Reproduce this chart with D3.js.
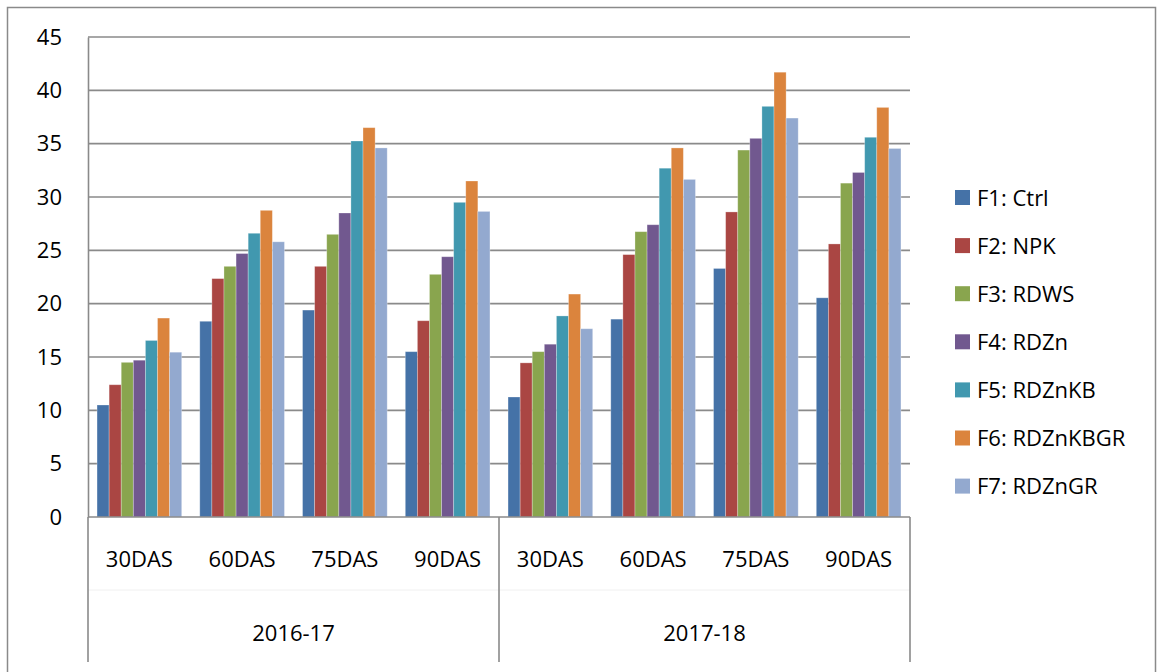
<!DOCTYPE html>
<html>
<head>
<meta charset="utf-8">
<script src="https://cdn.jsdelivr.net/npm/d3@7"></script>
<style>
  body { margin: 0; background: #fff; }
  text { font-family: "Open Sans", "Liberation Sans", sans-serif; fill: #000; }
</style>
</head>
<body>
<svg width="1158" height="672"></svg>
<script>
var years   = ['2016-17', '2017-18'],
    stages  = ['30DAS', '60DAS', '75DAS', '90DAS'],
    names   = ['F1: Ctrl', 'F2: NPK', 'F3: RDWS', 'F4: RDZn', 'F5: RDZnKB', 'F6: RDZnKBGR', 'F7: RDZnGR'],
    colors  = ['#4572A7', '#AA4643', '#89A54E', '#71588F', '#4198AF', '#DB843D', '#93A9CF'],
    yTicks  = [0, 5, 10, 15, 20, 25, 30, 35, 40, 45];

// one array per series, 8 values: 2016-17 (30,60,75,90 DAS) then 2017-18
var f1 = [10.5, 18.35, 19.4, 15.5, 11.25, 18.55, 23.3, 20.55],
    f2 = [12.4, 22.35, 23.5, 18.4, 14.45, 24.6, 28.6, 25.6],
    f3 = [14.5, 23.5, 26.5, 22.75, 15.5, 26.75, 34.4, 31.3],
    f4 = [14.7, 24.7, 28.5, 24.4, 16.2, 27.4, 35.5, 32.3],
    f5 = [16.55, 26.6, 35.25, 29.5, 18.85, 32.7, 38.5, 35.6],
    f6 = [18.65, 28.75, 36.5, 31.5, 20.9, 34.6, 41.7, 38.4],
    f7 = [15.45, 25.8, 34.6, 28.65, 17.65, 31.65, 37.4, 34.55];

var series = [f1, f2, f3, f4, f5, f6, f7];

var plotL = 88, plotR = 910, plotT = 37, plotB = 517,
    grey  = '#8a8a8a',
    svg   = d3.select('svg');

var cats = [];
years.forEach(function(yr) { stages.forEach(function(s) { cats.push(yr + '|' + s); }); });

var x0 = d3.scaleBand().domain(cats).range([plotL, plotR]).paddingInner(0.176).paddingOuter(0.088),
    x1 = d3.scaleBand().domain(d3.range(names.length)).range([0, x0.bandwidth()]),
    xYear = d3.scaleBand().domain(years).range([plotL, plotR]),
    y  = d3.scaleLinear().domain([0, 45]).range([plotB, plotT]);

// outer chart frame
svg.append('rect')
  .attr('x', 7.5).attr('y', 7.5).attr('width', 1148).attr('height', 680)
  .attr('fill', 'none').attr('stroke', grey).attr('stroke-width', 1.5);

// gridlines
svg.append('g').selectAll('line').data(yTicks.slice(1)).enter().append('line')
  .attr('x1', plotL).attr('x2', plotR)
  .attr('y1', function(d) { return y(d); }).attr('y2', function(d) { return y(d); })
  .attr('stroke', grey).attr('stroke-width', 1.6);

// y axis
var yAxis = svg.append('g').attr('transform', 'translate(' + plotL + ',0)')
  .call(d3.axisLeft(y).tickValues(yTicks).tickSize(0).tickPadding(26));
yAxis.select('.domain').attr('stroke', grey).attr('stroke-width', 1.6);
yAxis.selectAll('text').attr('font-size', 22).style('font-family', '"Open Sans", sans-serif');

// bars
svg.append('g').selectAll('g').data(series).enter().append('g')
  .attr('fill', function(d, i) { return colors[i]; })
  .each(function(vals, si) {
    d3.select(this).selectAll('rect').data(vals).enter().append('rect')
      .attr('x', function(d, ci) { return x0(cats[ci]) + x1(si); })
      .attr('width', x1.bandwidth())
      .attr('y', function(d) { return y(d); })
      .attr('height', function(d) { return y(0) - y(d); })
      .attr('stroke', '#fff').attr('stroke-opacity', 0.35).attr('stroke-width', 0.8);
  });

// x axis line
svg.append('line')
  .attr('x1', plotL).attr('x2', plotR).attr('y1', plotB).attr('y2', plotB)
  .attr('stroke', grey).attr('stroke-width', 1.6);

// faint divider between label rows
svg.append('line')
  .attr('x1', plotL).attr('x2', plotR).attr('y1', 590).attr('y2', 590)
  .attr('stroke', '#f0f0f0').attr('stroke-width', 1);

// year separators
svg.append('g').selectAll('line').data([plotL, xYear(years[1]), plotR]).enter().append('line')
  .attr('x1', function(d) { return d; }).attr('x2', function(d) { return d; })
  .attr('y1', plotB).attr('y2', 662)
  .attr('stroke', grey).attr('stroke-width', 1.6);

// stage labels
svg.append('g').selectAll('text').data(cats).enter().append('text')
  .attr('x', function(d) { return x0(d) + x0.bandwidth() / 2; })
  .attr('y', 567)
  .attr('text-anchor', 'middle').attr('font-size', 22)
  .text(function(d) { return d.split('|')[1]; });

// year labels
svg.append('g').selectAll('text').data(years).enter().append('text')
  .attr('x', function(d) { return xYear(d) + xYear.bandwidth() / 2; })
  .attr('y', 641)
  .attr('text-anchor', 'middle').attr('font-size', 22)
  .text(function(d) { return d; });

// legend
var legend = svg.append('g').selectAll('g').data(names).enter().append('g')
  .attr('transform', function(d, i) { return 'translate(955,' + (197.5 + i * 48.1) + ')'; });

legend.append('rect')
  .attr('x', 0).attr('y', -7.5).attr('width', 15).attr('height', 15)
  .attr('fill', function(d, i) { return colors[i]; });

legend.append('text')
  .attr('x', 22).attr('y', 8)
  .attr('font-size', 22)
  .text(function(d) { return d; });
</script>
</body>
</html>
